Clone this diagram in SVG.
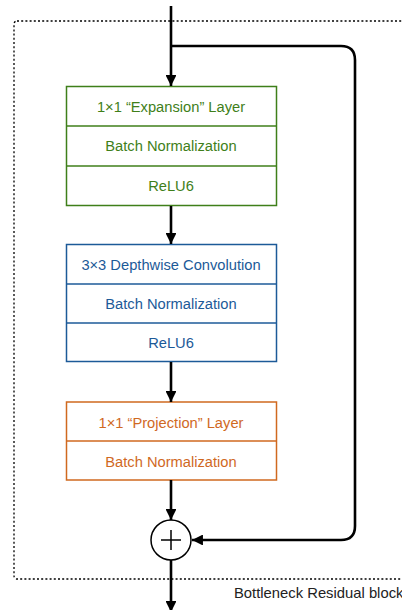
<svg xmlns="http://www.w3.org/2000/svg" width="402" height="610" viewBox="0 0 402 610">
<style>
  text { font-family: "Liberation Sans", Arial, sans-serif; font-size: 14.7px; text-anchor: middle; }
  .g rect, .g line { stroke: #3f7f1a; fill: none; stroke-width: 1.5; }
  .g text { fill: #3f7f1a; }
  .b rect, .b line { stroke: #1c5a98; fill: none; stroke-width: 1.5; }
  .b text { fill: #1c5a98; }
  .o rect, .o line { stroke: #d0691f; fill: none; stroke-width: 1.5; }
  .o text { fill: #d0691f; }
  .conn { stroke: #000; stroke-width: 2.6; fill: none; }
</style>
<defs>
  <marker id="ah" viewBox="0 0 10 10" refX="10" refY="5" markerWidth="4.2" markerHeight="4.2" orient="auto" markerUnits="strokeWidth">
    <path d="M0,0 L10,5 L0,10 z" fill="#000"/>
  </marker>
</defs>
<rect id="block" x="14" y="21" width="400" height="558" rx="3" fill="none" stroke="#000" stroke-width="1.3" stroke-dasharray="2,2.2"/>
<text x="234" y="598" style="text-anchor:start; font-size:14.8px" fill="#222">Bottleneck Residual block</text>
<g id="expansion" class="g">
  <rect x="66.5" y="86.5" width="210" height="119"/>
  <line x1="66.5" y1="126" x2="276.5" y2="126"/>
  <line x1="66.5" y1="166" x2="276.5" y2="166"/>
  <text x="171" y="111.5">1×1 “Expansion” Layer</text>
  <text x="171" y="151">Batch Normalization</text>
  <text x="171" y="190.5">ReLU6</text>
</g>
<g id="depthwise" class="b">
  <rect x="66.5" y="244.5" width="210" height="117"/>
  <line x1="66.5" y1="284" x2="276.5" y2="284"/>
  <line x1="66.5" y1="323" x2="276.5" y2="323"/>
  <text x="171" y="269.5">3×3 Depthwise Convolution</text>
  <text x="171" y="309">Batch Normalization</text>
  <text x="171" y="347.5">ReLU6</text>
</g>
<g id="projection" class="o">
  <rect x="66.5" y="402" width="210" height="78"/>
  <line x1="66.5" y1="441" x2="276.5" y2="441"/>
  <text x="171" y="427.5">1×1 “Projection” Layer</text>
  <text x="171" y="466.5">Batch Normalization</text>
</g>
<g id="add">
  <circle cx="171" cy="540" r="20" fill="#fff" stroke="#000" stroke-width="1.5"/>
  <line x1="161" y1="540" x2="181" y2="540" stroke="#000" stroke-width="1.5"/>
  <line x1="171" y1="530" x2="171" y2="550" stroke="#000" stroke-width="1.5"/>
</g>
<g id="connectors">
  <line class="conn" x1="171" y1="6" x2="171" y2="86" marker-end="url(#ah)"/>
  <path class="conn" d="M171,46 H341 Q355,46 355,60 V526 Q355,540 341,540 H192" marker-end="url(#ah)"/>
  <line class="conn" x1="171" y1="206" x2="171" y2="244" marker-end="url(#ah)"/>
  <line class="conn" x1="171" y1="362" x2="171" y2="402" marker-end="url(#ah)"/>
  <line class="conn" x1="171" y1="480" x2="171" y2="520" marker-end="url(#ah)"/>
  <line class="conn" x1="171" y1="560" x2="171" y2="612" marker-end="url(#ah)"/>
</g>
</svg>
